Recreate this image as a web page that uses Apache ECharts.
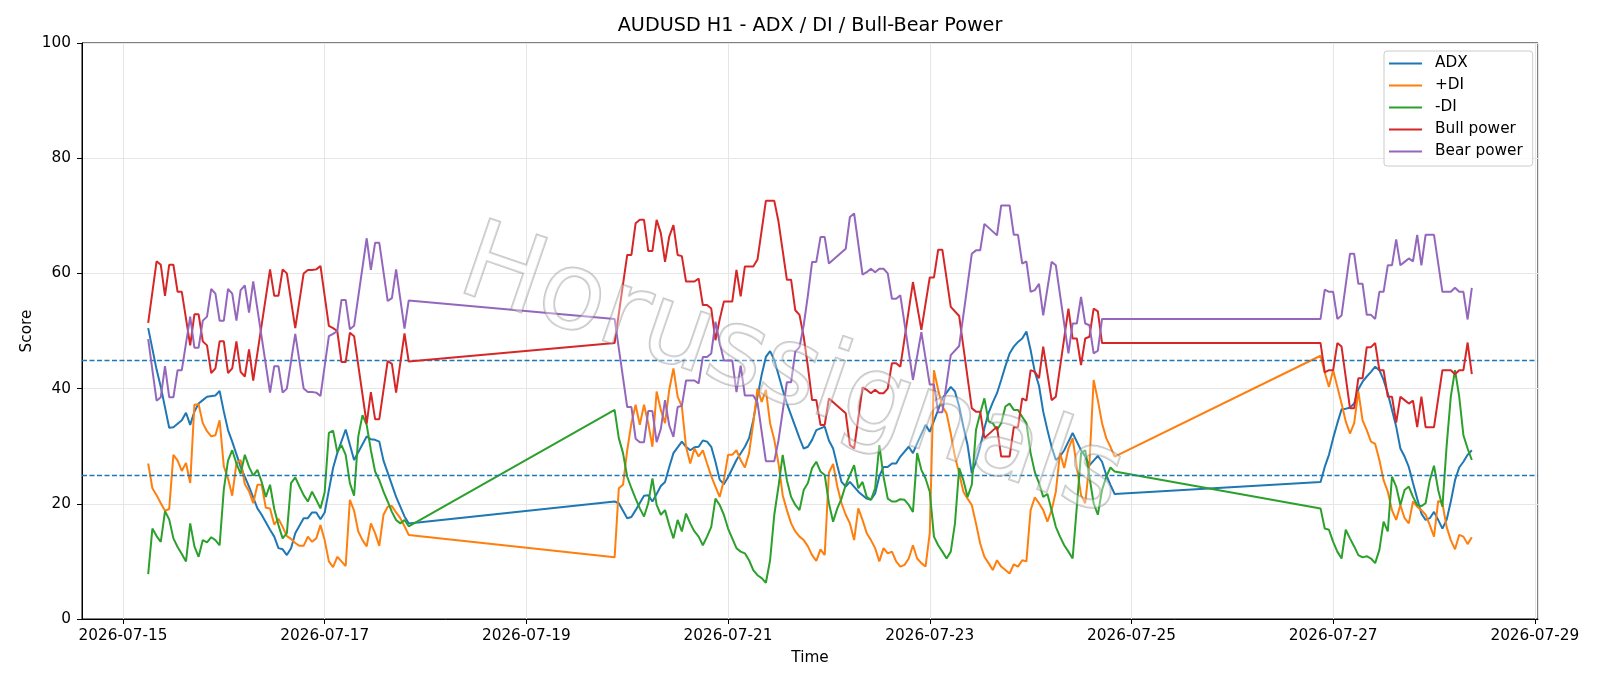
<!DOCTYPE html>
<html>
<head>
<meta charset="utf-8">
<title>AUDUSD H1 - ADX / DI / Bull-Bear Power</title>
<script src="https://cdn.jsdelivr.net/npm/echarts@6/dist/echarts.min.js"></script>
<style>
  html, body { margin: 0; padding: 0; background: #fff; }
  #chart { width: 1600px; height: 686px; }
</style>
</head>
<body>
<div id="chart"></div>
<script>
// Hours counted from 2026-07-15 00:00, one bar per hour (H1).
// Each series: [hour, value] at the points.
const adx = [
  [6, 50.5], [8, 43.3], [9, 40.3], [11, 33.2], [12, 33.3], [14, 34.5], [15, 35.8], [16, 33.7],
  [17, 36.0], [18, 37.4], [19, 38.0], [20, 38.6], [22, 38.8], [23, 39.6], [24, 36.0], [25, 32.8],
  [26, 30.8], [28, 26.4], [30, 23.0], [32, 19.2], [33, 18.1], [35, 15.5], [36, 14.3], [37, 12.3],
  [38, 12.1], [39, 11.1], [40, 12.3], [41, 14.9], [43, 17.5], [44, 17.5], [45, 18.5], [46, 18.5],
  [47, 17.3], [48, 18.5], [50, 26.2], [51, 28.8], [53, 32.9], [55, 27.6], [58, 31.7], [59, 31.2],
  [60, 31.1], [61, 30.8], [62, 27.5], [65, 21.2], [67, 17.8], [68, 16.6],
  [117, 20.4], [118, 20.1], [120, 17.5], [121, 17.7], [122, 18.9], [124, 21.4], [125, 21.5], [126, 20.4],
  [127, 21.7], [128, 23.1], [129, 23.8], [130, 26.4], [131, 28.8], [133, 30.8], [134, 29.9], [135, 29.3],
  [136, 29.8], [137, 29.9], [138, 31.0], [139, 30.8], [140, 29.9], [141, 27.3], [142, 24.2], [143, 23.4],
  [144, 24.6], [146, 27.6], [148, 29.9], [149, 31.4], [150, 34.5], [151, 38.6], [152, 42.4], [153, 45.5],
  [154, 46.5], [155, 45.0], [156, 42.4], [157, 39.8], [158, 37.4], [159, 35.4], [160, 33.4], [161, 31.4],
  [162, 29.6], [163, 29.9], [164, 31.1], [165, 32.8], [166, 33.1], [167, 33.4], [168, 31.0], [169, 29.6],
  [170, 26.6], [171, 23.8], [172, 23.0], [173, 23.8], [175, 22.1], [176, 21.5], [177, 20.9], [178, 20.7],
  [179, 21.8], [180, 24.8], [181, 26.4], [182, 26.4], [183, 27.0], [184, 27.0], [185, 28.2], [187, 29.9],
  [188, 28.8], [189, 30.5], [191, 33.7], [192, 32.5], [194, 36.3], [195, 38.3], [197, 40.3], [198, 39.5],
  [199, 36.9], [200, 33.4], [201, 30.2], [202, 25.3], [203, 27.3], [204, 29.9], [205, 33.1], [206, 35.8],
  [207, 37.6], [208, 39.2], [209, 41.5], [210, 43.9], [211, 46.1], [212, 47.3], [213, 48.1], [214, 48.7],
  [215, 49.9], [216, 46.7], [217, 42.9], [218, 40.5], [219, 36.0], [220, 32.8], [221, 29.9], [222, 27.6],
  [223, 28.2], [224, 29.3], [225, 30.8], [226, 32.3], [227, 30.8], [228, 29.3], [229, 28.2], [230, 26.7],
  [231, 27.5], [232, 28.3], [233, 27.3], [234, 25.0], [235, 23.3], [236, 21.7],
  [285, 23.8], [286, 26.4], [287, 28.5], [288, 31.4], [289, 34.0], [290, 36.4], [291, 36.5], [292, 36.7],
  [293, 37.4], [294, 39.9], [295, 41.2], [296, 42.1], [297, 42.9], [298, 43.8], [299, 43.2], [300, 41.5],
  [301, 39.2], [302, 36.3], [303, 33.4], [304, 29.6], [305, 28.2], [306, 26.4], [307, 23.6], [308, 20.9],
  [309, 18.3], [310, 17.2], [311, 17.5], [312, 18.6], [313, 17.2], [314, 15.7], [315, 17.2], [316, 20.4],
  [317, 24.1], [318, 26.3], [319, 27.3], [320, 28.5], [321, 29.3]
];

const plusDi = [
  [6, 27.0], [7, 22.7], [8, 21.5], [9, 20.1], [10, 18.8], [11, 19.1], [12, 28.5], [13, 27.5],
  [14, 25.7], [15, 27.1], [16, 23.6], [17, 37.2], [18, 37.3], [19, 34.0], [20, 32.6], [21, 31.7],
  [22, 31.9], [23, 34.5], [24, 26.5], [25, 24.4], [26, 21.4], [27, 27.0], [28, 27.6], [29, 23.4],
  [30, 22.2], [31, 20.1], [32, 23.3], [33, 23.3], [34, 19.3], [35, 19.2], [36, 16.4], [37, 17.4],
  [38, 16.0], [39, 14.4], [40, 13.9], [41, 13.2], [42, 12.7], [43, 12.7], [44, 14.3], [45, 13.4],
  [46, 14.0], [47, 16.3], [48, 13.7], [49, 10.0], [50, 9.0], [51, 10.8], [52, 10.0], [53, 9.2],
  [54, 20.7], [55, 18.8], [56, 15.2], [57, 13.7], [58, 12.6], [59, 16.6], [60, 14.9], [61, 12.7],
  [62, 18.1], [63, 19.5], [64, 19.6], [65, 18.5], [66, 17.5], [67, 16.1], [68, 14.6],
  [117, 10.7], [118, 22.7], [119, 23.3], [120, 29.3], [121, 34.0], [122, 37.2], [123, 33.7], [124, 37.2],
  [125, 34.0], [126, 29.9], [127, 39.5], [128, 36.3], [129, 34.0], [130, 39.8], [131, 43.5], [132, 38.6],
  [133, 36.9], [134, 29.9], [135, 27.0], [136, 29.6], [137, 28.2], [138, 29.3], [139, 27.0], [140, 24.8],
  [141, 23.0], [142, 21.2], [143, 24.1], [144, 28.5], [145, 28.5], [146, 29.3], [147, 27.6], [148, 26.3],
  [149, 28.8], [150, 34.0], [151, 40.0], [152, 37.7], [153, 39.8], [154, 34.0], [155, 31.1], [156, 27.0],
  [157, 21.5], [158, 18.9], [159, 16.6], [160, 15.2], [161, 14.3], [162, 13.7], [163, 12.6], [164, 11.1],
  [165, 10.1], [166, 12.1], [167, 11.1], [168, 25.4], [169, 26.9], [170, 23.0], [171, 20.1], [172, 18.1],
  [173, 16.6], [174, 13.7], [175, 19.2], [176, 17.2], [177, 14.9], [178, 13.7], [179, 12.3], [180, 10.0],
  [181, 12.3], [182, 11.4], [183, 11.7], [184, 10.0], [185, 9.1], [186, 9.4], [187, 10.5], [188, 12.8],
  [189, 10.5], [190, 9.7], [191, 9.1], [192, 14.9], [193, 43.2], [194, 39.8], [195, 36.9], [196, 35.7],
  [197, 32.2], [198, 28.2], [199, 25.3], [200, 22.1], [201, 20.9], [202, 19.8], [203, 16.6], [204, 13.1],
  [205, 10.8], [206, 9.7], [207, 8.5], [208, 10.2], [209, 9.1], [210, 8.5], [211, 7.9], [212, 9.5],
  [213, 9.1], [214, 10.2], [215, 10.0], [216, 18.9], [217, 21.1], [218, 20.1], [219, 18.9], [220, 16.9],
  [221, 18.9], [222, 22.1], [223, 28.8], [224, 26.2], [225, 29.6], [226, 31.4], [227, 26.4], [228, 21.5],
  [229, 20.1], [230, 27.0], [231, 41.5], [232, 38.0], [233, 34.0], [234, 31.4], [235, 29.9], [236, 28.2],
  [285, 45.7], [286, 42.8], [287, 40.3], [288, 43.2], [289, 40.3], [290, 37.4], [291, 34.3], [292, 32.2],
  [293, 34.0], [294, 39.5], [295, 34.5], [296, 32.8], [297, 30.8], [298, 30.4], [299, 27.6], [300, 24.1],
  [301, 22.1], [302, 18.9], [303, 17.2], [304, 19.8], [305, 17.5], [306, 16.6], [307, 20.4], [308, 19.5],
  [309, 18.9], [310, 18.1], [311, 16.3], [312, 14.3], [313, 20.5], [314, 20.1], [315, 16.0], [316, 13.7],
  [317, 12.1], [318, 14.6], [319, 14.3], [320, 13.0], [321, 14.2]
];

const minusDi = [
  [6, 7.8], [7, 15.7], [8, 14.4], [9, 13.4], [10, 18.7], [11, 17.3], [12, 14.0], [13, 12.5],
  [14, 11.3], [15, 10.0], [16, 16.6], [17, 12.6], [18, 10.8], [19, 13.7], [20, 13.3], [21, 14.2],
  [22, 13.7], [23, 12.8], [24, 22.5], [25, 27.5], [26, 29.3], [27, 27.0], [28, 25.2], [29, 28.5],
  [30, 26.4], [31, 24.9], [32, 25.9], [33, 23.8], [34, 21.2], [35, 23.3], [36, 19.1], [37, 16.3],
  [38, 14.0], [39, 14.9], [40, 23.6], [41, 24.6], [42, 23.0], [43, 21.5], [44, 20.4], [45, 22.1],
  [46, 20.7], [47, 19.2], [48, 22.0], [49, 32.3], [50, 32.7], [51, 29.0], [52, 30.2], [53, 28.5],
  [54, 23.6], [55, 21.4], [56, 31.7], [57, 35.4], [58, 33.7], [59, 29.3], [60, 25.6], [61, 24.1],
  [62, 22.1], [63, 20.4], [64, 18.6], [65, 17.2], [66, 16.6], [67, 17.2], [68, 16.1],
  [117, 36.3], [118, 31.4], [119, 28.8], [120, 24.7], [121, 22.7], [122, 20.9], [123, 19.2], [124, 17.8],
  [125, 20.1], [126, 24.4], [127, 19.8], [128, 18.1], [129, 18.9], [130, 16.3], [131, 14.0], [132, 17.2],
  [133, 15.2], [134, 18.3], [135, 16.6], [136, 15.2], [137, 14.3], [138, 12.8], [139, 14.3], [140, 16.0],
  [141, 20.9], [142, 19.8], [143, 18.1], [144, 15.7], [145, 14.0], [146, 12.3], [147, 11.7], [148, 11.4],
  [149, 10.2], [150, 8.5], [151, 7.6], [152, 7.1], [153, 6.3], [154, 10.2], [155, 18.1], [156, 23.0],
  [157, 28.5], [158, 24.1], [159, 21.2], [160, 19.8], [161, 18.9], [162, 22.4], [163, 23.6], [164, 26.2],
  [165, 27.3], [166, 25.6], [167, 25.0], [168, 20.1], [169, 16.9], [170, 19.2], [171, 20.9], [172, 23.3],
  [173, 25.0], [174, 26.7], [175, 22.7], [176, 23.8], [177, 21.2], [178, 20.7], [179, 22.7], [180, 30.2],
  [181, 24.7], [182, 20.9], [183, 20.4], [184, 20.4], [185, 20.8], [186, 20.7], [187, 19.8], [188, 18.6],
  [189, 28.8], [190, 25.9], [191, 24.4], [192, 22.1], [193, 14.3], [194, 12.8], [195, 11.7], [196, 10.5],
  [197, 11.7], [198, 16.6], [199, 26.2], [200, 24.1], [201, 21.2], [202, 23.3], [203, 32.8], [204, 35.7],
  [205, 38.3], [206, 34.3], [207, 34.0], [208, 32.8], [209, 34.0], [210, 36.9], [211, 37.4], [212, 36.3],
  [213, 36.3], [214, 35.1], [215, 34.0], [216, 28.8], [217, 25.5], [218, 23.6], [219, 21.2], [220, 21.7],
  [221, 18.9], [222, 16.0], [223, 14.3], [224, 12.8], [225, 11.7], [226, 10.5], [227, 19.5], [228, 28.8],
  [229, 29.3], [230, 24.7], [231, 20.1], [232, 18.1], [233, 22.4], [234, 24.7], [235, 26.3], [236, 25.6],
  [285, 19.2], [286, 15.7], [287, 15.5], [288, 13.4], [289, 11.7], [290, 10.5], [291, 15.5], [292, 14.0],
  [293, 12.6], [294, 11.1], [295, 10.7], [296, 10.9], [297, 10.5], [298, 9.7], [299, 12.0], [300, 16.9],
  [301, 15.2], [302, 24.7], [303, 23.0], [304, 19.8], [305, 22.4], [306, 23.0], [307, 21.2], [308, 19.8],
  [309, 19.6], [310, 20.1], [311, 24.1], [312, 26.6], [313, 22.4], [314, 19.5], [315, 30.0], [316, 38.6],
  [317, 43.2], [318, 38.6], [319, 31.9], [320, 29.6], [321, 27.6]
];

const bullPower = [
  [6, 51.4], [8, 62.1], [9, 61.5], [10, 56.1], [11, 61.5], [12, 61.5], [13, 56.8], [14, 56.8],
  [16, 47.5], [17, 52.9], [18, 52.9], [19, 48.2], [20, 47.5], [21, 42.7], [22, 43.5], [23, 48.2],
  [24, 48.2], [25, 42.7], [26, 43.5], [27, 48.2], [28, 42.9], [29, 42.1], [30, 46.8], [31, 41.4],
  [35, 60.7], [36, 56.1], [37, 56.1], [38, 60.7], [39, 60.0], [41, 50.5], [43, 60.0], [44, 60.6],
  [45, 60.6], [46, 60.7], [47, 61.3], [49, 50.9], [50, 50.5], [51, 50.0], [52, 44.6], [53, 44.6],
  [54, 49.7], [55, 49.1], [58, 33.9], [59, 39.4], [60, 34.7], [61, 34.7], [63, 44.8], [64, 44.3],
  [65, 39.3], [67, 49.6], [68, 44.7],
  [117, 47.9], [120, 63.2], [121, 63.2], [122, 68.7], [123, 69.3], [124, 69.3], [125, 63.9], [126, 63.9],
  [127, 69.3], [128, 67.0], [129, 62.0], [130, 66.4], [131, 68.4], [132, 63.2], [133, 63.0], [134, 58.6],
  [135, 58.6], [136, 58.6], [137, 59.1], [138, 54.5], [139, 54.5], [140, 53.9], [141, 48.4], [142, 52.0],
  [143, 55.1], [144, 55.1], [145, 55.1], [146, 60.6], [147, 56.0], [148, 61.2], [149, 61.2], [150, 61.2],
  [151, 62.4], [153, 72.6], [154, 72.6], [155, 72.6], [156, 69.0], [158, 58.9], [159, 58.9], [160, 53.6],
  [161, 52.8], [162, 49.0], [163, 43.8], [164, 38.0], [165, 38.0], [166, 33.7], [167, 33.7], [168, 38.3],
  [172, 35.7], [173, 30.2], [174, 29.6], [176, 40.2], [177, 39.8], [178, 39.2], [179, 39.8], [180, 39.2],
  [181, 39.2], [182, 40.0], [183, 44.4], [184, 44.4], [185, 43.8], [188, 58.5], [190, 50.2], [192, 59.3],
  [193, 59.3], [194, 64.1], [195, 64.1], [197, 54.2], [199, 52.6], [202, 36.6], [203, 36.0], [204, 36.0],
  [205, 31.4], [208, 33.4], [209, 28.2], [210, 28.2], [211, 28.2], [212, 33.3], [213, 33.3], [214, 38.3],
  [215, 37.9], [216, 43.2], [217, 42.9], [218, 41.8], [219, 47.3], [221, 38.0], [222, 38.6], [225, 53.9],
  [226, 48.7], [227, 48.7], [228, 44.1], [229, 48.7], [230, 49.0], [231, 53.9], [232, 53.4], [233, 47.9],
  [236, 47.9],
  [285, 47.9], [286, 42.8], [287, 43.2], [288, 43.2], [289, 47.9], [290, 47.3], [292, 36.6], [293, 36.6],
  [294, 41.8], [295, 41.8], [296, 47.2], [297, 47.2], [298, 47.9], [299, 43.2], [300, 43.2], [301, 38.6],
  [302, 38.6], [303, 34.1], [304, 38.6], [305, 38.0], [306, 37.4], [307, 37.9], [308, 33.3], [309, 38.6],
  [310, 33.3], [311, 33.3], [312, 33.3], [314, 43.2], [315, 43.2], [316, 43.2], [317, 42.5], [318, 43.2],
  [319, 43.2], [320, 48.0], [321, 42.5]
];

const bearPower = [
  [6, 48.6], [8, 37.9], [9, 38.5], [10, 43.9], [11, 38.5], [12, 38.5], [13, 43.2], [14, 43.2],
  [16, 52.5], [17, 47.1], [18, 47.1], [19, 51.8], [20, 52.5], [21, 57.3], [22, 56.5], [23, 51.8],
  [24, 51.8], [25, 57.3], [26, 56.5], [27, 51.8], [28, 57.1], [29, 57.9], [30, 53.2], [31, 58.6],
  [35, 39.3], [36, 43.9], [37, 43.9], [38, 39.3], [39, 40.0], [41, 49.5], [43, 40.0], [44, 39.4],
  [45, 39.4], [46, 39.3], [47, 38.7], [49, 49.1], [50, 49.5], [51, 50.0], [52, 55.4], [53, 55.4],
  [54, 50.3], [55, 50.9], [58, 66.1], [59, 60.6], [60, 65.3], [61, 65.3], [63, 55.2], [64, 55.7],
  [65, 60.7], [67, 50.4], [68, 55.3],
  [117, 52.1], [120, 36.8], [121, 36.8], [122, 31.3], [123, 30.7], [124, 30.7], [125, 36.1], [126, 36.1],
  [127, 30.7], [128, 33.0], [129, 38.0], [130, 33.6], [131, 31.6], [132, 36.8], [133, 37.0], [134, 41.4],
  [135, 41.4], [136, 41.4], [137, 40.9], [138, 45.5], [139, 45.5], [140, 46.1], [141, 51.6], [142, 48.0],
  [143, 44.9], [144, 44.9], [145, 44.9], [146, 39.4], [147, 44.0], [148, 38.8], [149, 38.8], [150, 38.8],
  [151, 37.6], [153, 27.4], [154, 27.4], [155, 27.4], [156, 31.0], [158, 41.1], [159, 41.1], [160, 46.4],
  [161, 47.2], [162, 51.0], [163, 56.2], [164, 62.0], [165, 62.0], [166, 66.3], [167, 66.3], [168, 61.7],
  [172, 64.3], [173, 69.8], [174, 70.4], [176, 59.8], [177, 60.2], [178, 60.8], [179, 60.2], [180, 60.8],
  [181, 60.8], [182, 60.0], [183, 55.6], [184, 55.6], [185, 56.2], [188, 41.5], [190, 49.8], [192, 40.7],
  [193, 40.7], [194, 35.9], [195, 35.9], [197, 45.8], [199, 47.4], [202, 63.4], [203, 64.0], [204, 64.0],
  [205, 68.6], [208, 66.6], [209, 71.8], [210, 71.8], [211, 71.8], [212, 66.7], [213, 66.7], [214, 61.7],
  [215, 62.1], [216, 56.8], [217, 57.1], [218, 58.2], [219, 52.7], [221, 62.0], [222, 61.4], [225, 46.1],
  [226, 51.3], [227, 51.3], [228, 55.9], [229, 51.3], [230, 51.0], [231, 46.1], [232, 46.6], [233, 52.1],
  [236, 52.1],
  [285, 52.1], [286, 57.2], [287, 56.8], [288, 56.8], [289, 52.1], [290, 52.7], [292, 63.4], [293, 63.4],
  [294, 58.2], [295, 58.2], [296, 52.8], [297, 52.8], [298, 52.1], [299, 56.8], [300, 56.8], [301, 61.4],
  [302, 61.4], [303, 65.9], [304, 61.4], [305, 62.0], [306, 62.6], [307, 62.1], [308, 66.7], [309, 61.4],
  [310, 66.7], [311, 66.7], [312, 66.7], [314, 56.8], [315, 56.8], [316, 56.8], [317, 57.5], [318, 56.8],
  [319, 56.8], [320, 52.0], [321, 57.5]
];

const thresholds = [25, 45];
const seriesNames = ['ADX', '+DI', '-DI', 'Bull power', 'Bear power'];
const seriesColors = ['#1f77b4', '#ff7f0e', '#2ca02c', '#d62728', '#9467bd'];

const FONT = 'DejaVu Sans';
const HOUR = 3600 * 1000;
const BASE = new Date(2026, 6, 15, 0, 0, 0).getTime();
const toTime = (pairs) => pairs.map(([h, v]) => [BASE + h * HOUR, v]);

const chart = echarts.init(document.getElementById('chart'), null, { renderer: 'canvas' });

const series = [adx, plusDi, minusDi, bullPower, bearPower].map((pairs, i) => ({
  name: seriesNames[i],
  type: 'line',
  data: toTime(pairs),
  showSymbol: false,
  symbol: 'none',
  lineStyle: { width: 2, color: seriesColors[i] },
  itemStyle: { color: seriesColors[i] },
  emphasis: { disabled: true },
  z: 2 + i,
}));

// dashed threshold lines at ADX 25 / 45
series[0].markLine = {
  silent: true,
  symbol: 'none',
  label: { show: false },
  lineStyle: { color: '#1f77b4', type: [5, 2.5], width: 1.4 },
  emphasis: { disabled: true },
  data: thresholds.map(v => ({ yAxis: v })),
};

chart.setOption({
  animation: false,
  textStyle: { fontFamily: FONT },
  grid: {
    left: 82, right: 62, top: 43, bottom: 67,
    show: true, borderColor: '#000', borderWidth: 1,
    containLabel: false,
  },
  legend: {
    data: seriesNames,
    orient: 'vertical',
    left: 1384,
    top: 51,
    padding: [5, 10, 7, 5],
    itemGap: 7,
    itemWidth: 33,
    itemHeight: 2,
    icon: 'rect',
    backgroundColor: 'rgba(255,255,255,0.8)',
    borderColor: '#cccccc',
    borderWidth: 1,
    borderRadius: 3,
    textStyle: { fontFamily: FONT, fontSize: 15.3, color: '#000', padding: [0, 0, 0, 8] },
  },
  xAxis: {
    type: 'time',
    min: BASE - 9.75 * HOUR,
    max: BASE + 336.75 * HOUR,
    minInterval: 48 * HOUR,
    maxInterval: 48 * HOUR,
    name: 'Time',
    nameLocation: 'middle',
    nameGap: 32,
    nameMoveOverlap: false,
    nameTextStyle: { fontFamily: FONT, fontSize: 15.3, color: '#000' },
    axisLine: { show: true, lineStyle: { color: '#000', width: 1 } },
    axisTick: { show: true, length: 5, lineStyle: { color: '#000', width: 1 } },
    axisLabel: {
      formatter: '{yyyy}-{MM}-{dd}',
      fontFamily: FONT, fontSize: 15.3, color: '#000', margin: 10,
      hideOverlap: false,
    },
    splitLine: { show: true, lineStyle: { color: '#e6e6e6', width: 1 } },
  },
  yAxis: {
    type: 'value',
    min: 0, max: 100, interval: 20,
    name: 'Score',
    nameLocation: 'middle',
    nameGap: 47,
    nameMoveOverlap: false,
    nameTextStyle: { fontFamily: FONT, fontSize: 15.3, color: '#000' },
    axisLine: { show: true, lineStyle: { color: '#000', width: 1 } },
    axisTick: { show: true, length: 5, lineStyle: { color: '#000', width: 1 } },
    axisLabel: { fontFamily: FONT, fontSize: 15.3, color: '#000', margin: 11 },
    splitLine: { show: true, lineStyle: { color: '#e6e6e6', width: 1 } },
  },
  graphic: [
    {
      type: 'text',
      x: 810, y: 26.5,
      style: {
        text: 'AUDUSD H1 - ADX / DI / Bull-Bear Power',
        font: '19.2px "DejaVu Sans"',
        fill: '#000',
        textAlign: 'center',
        textVerticalAlign: 'middle',
      },
      z: 100,
    },
    {
      // watermark
      type: 'text',
      x: 791, y: 375,
      rotation: -0.33,
      silent: true,
      style: {
        text: 'Horussignals',
        font: '108px "DejaVu Sans"',
        fill: 'rgba(255,255,255,0.35)',
        stroke: 'rgba(120,120,120,0.42)',
        lineWidth: 2,
        textAlign: 'center',
        textVerticalAlign: 'middle',
      },
      z: 50,
    },
  ],
  series: series,
});
</script>
</body>
</html>
